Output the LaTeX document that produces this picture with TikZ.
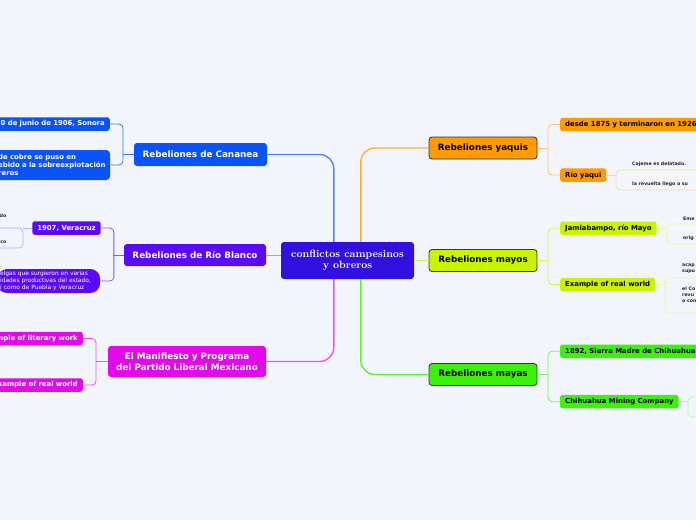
\documentclass[tikz,border=0pt]{standalone}
\usepackage{fontspec}
\newfontfamily\sansf{DejaVu Sans}
\definecolor{bg}{HTML}{F3F5FD}
\definecolor{cmain}{HTML}{3210DE}
\definecolor{cblue}{HTML}{0B52F7}
\definecolor{cviolet}{HTML}{5A0AF5}
\definecolor{cmag}{HTML}{E20AEA}
\definecolor{corange}{HTML}{FF9A00}
\definecolor{cyellow}{HTML}{CCF200}
\definecolor{cgreen}{HTML}{3CF20A}
\begin{document}
\begin{tikzpicture}[x=1pt,y=-1pt,
  mainnode/.style={rounded corners=3pt, inner sep=0pt, align=center, font=\sansf\fontsize{8.8}{11}\selectfont\bfseries},
  leafnode/.style={rounded corners=2.5pt, inner ysep=0pt, inner xsep=5pt, minimum height=13.5pt, font=\sansf\fontsize{6.9}{8.3}\selectfont\bfseries},
  tinytext/.style={inner sep=0pt, align=left, font=\sansf\fontsize{4.7}{6}\selectfont\bfseries, text=black!85},
  grp/.style={rounded corners=4pt, line width=0.7pt, inner sep=0pt},
  conn/.style={line width=1.4pt, rounded corners=14pt},
  br/.style={line width=0.8pt, rounded corners=4pt}]
\useasboundingbox (0,0) rectangle (696,520);
\clip (0,0) rectangle (696,520);
\fill[bg] (0,0) rectangle (696,520);

% main nodes
\node[mainnode, fill=cmain, text=white, minimum width=133pt, minimum height=37pt,
  font=\rmfamily\fontsize{10.5}{11.5}\selectfont\bfseries] (center) at (347.5,260.5) {conflictos campesinos\\y obreros};
\node[mainnode, fill=cblue, text=white, minimum width=133pt, minimum height=23pt] (cananea) at (200.5,154.5) {Rebeliones de Cananea};
\node[mainnode, fill=cviolet, text=white, minimum width=142pt, minimum height=22pt] (rioblanco) at (195,255) {Rebeliones de Río Blanco};
\node[mainnode, fill=cmag, text=white, minimum width=158pt, minimum height=31pt] (manif) at (187,361.5) {El Manifiesto y Programa\\del Partido Liberal Mexicano};
\node[mainnode, fill=corange, draw=black!80, line width=0.8pt, minimum width=108pt, minimum height=22pt] (yaquis) at (483,148) {Rebeliones yaquis};
\node[mainnode, fill=cyellow, draw=black!80, line width=0.8pt, minimum width=108pt, minimum height=22pt] (mayos) at (483,260.5) {Rebeliones mayos};
\node[mainnode, fill=cgreen, draw=black!80, line width=0.8pt, minimum width=108pt, minimum height=22pt] (mayas) at (483,374.5) {Rebeliones mayas};

% left leaves
\node[leafnode, fill=cblue, text=white, anchor=east, text width=125pt, align=right] (c1) at (110,124) {0 de junio de 1906, Sonora};
\node[leafnode, fill=cblue, text=white, anchor=west, inner xsep=2pt, text width=110pt, align=left, minimum height=30pt, rounded corners=4pt] (c2) at (-4,165) {de cobre se puso en\\ebido a la sobreexplotación\\reros};
\node[leafnode, fill=cviolet, text=white, minimum width=67pt] (v1) at (66.5,228) {1907, Veracruz};
\node[fill=cviolet, text=white, anchor=west, inner xsep=3pt, inner ysep=0pt, text width=97pt, align=left, minimum height=24pt, rounded corners=10pt,
  font=\sansf\fontsize{5.9}{6.8}\selectfont] (v2) at (-3,281) {elgas que surgieron en varias\\idades productivas del estado,\\í como de Puebla y Veracruz};
\node[grp, draw=cviolet!35, minimum width=40pt, minimum height=20pt] (v3) at (3,238) {};
\node[tinytext, anchor=east] (v3a) at (6.5,216) {do};
\node[tinytext, anchor=east] (v3b) at (6.5,242) {co};
\node[leafnode, fill=cmag, text=white, anchor=east, text width=100pt, align=right] (m1) at (83,338.5) {mple of literary work};
\node[leafnode, fill=cmag, text=white, anchor=east, text width=100pt, align=right] (m2) at (83,385) {xample of real world};

% right leaves
\node[leafnode, fill=corange, anchor=west] (y1) at (560,124.5) {desde 1875 y terminaron en 1926};
\node[leafnode, fill=corange, anchor=west] (y2) at (560,175) {Río yaqui};
\node[grp, draw=corange!40, minimum width=100pt, minimum height=20pt] (y3) at (666,180) {};
\node[tinytext, anchor=west] (y3a) at (632,164) {Cajeme es delatado.};
\node[tinytext, anchor=west] (y3b) at (632,184.5) {la revuelta llego a su};

\node[leafnode, fill=cyellow, anchor=west] (jam) at (560,228.3) {Jamiabampo, río Mayo};
\node[leafnode, fill=cyellow, anchor=west] (ex) at (560,284.5) {Example of real world};
\node[grp, draw=cyellow!45, minimum width=50pt, minimum height=20pt] (jamg) at (692,234) {};
\node[tinytext, anchor=west] (jama) at (683,218.5) {Eme};
\node[tinytext, anchor=west] (jamb) at (683,238.5) {orig};
\node[grp, draw=cyellow!45, minimum width=50pt, minimum height=35pt] (exg) at (690,295.5) {};
\node[tinytext, anchor=west] (exa) at (682,268.5) {acap\\supu};
\node[tinytext, anchor=west] (exb) at (682,295) {el Co\\revu\\o con};

\node[leafnode, fill=cgreen, anchor=west] (g1) at (560,351.3) {1892, Sierra Madre de Chihuahua};
\node[leafnode, fill=cgreen, anchor=west] (g2) at (560,401.7) {Chihuahua Mining Company};
\node[grp, draw=cgreen!40, minimum width=40pt, minimum height=20pt] (g3) at (708,407) {};

% center connectors
\draw[conn, draw=cblue!70] (cananea.east) -| ([xshift=53pt]center.north west);
\draw[conn, draw=cmag!70] (manif.east) -| ([xshift=53pt]center.south west);
\draw[conn, draw=corange!80] (yaquis.west) -| ([xshift=80pt]center.north west);
\draw[conn, draw=cgreen!85] (mayas.west) -| ([xshift=80pt]center.south west);
\draw[line width=1pt, draw=cviolet!45] (rioblanco.east) -- (rioblanco.east -| center.west);
\draw[line width=1pt, draw=cyellow!70] (center.east) -- (mayos.west);

% brackets left
\draw[br, draw=cblue!80] (cananea.west) -- ++(-11,0);
\draw[br, draw=cblue!80] (c1.east) -- ++(13,0) |- (c2.east);
\draw[br, draw=cviolet!70] (rioblanco.west) -- ++(-11,0);
\draw[br, draw=cviolet!70] (v1.east) -- ++(13,0) |- (v2.east);
\draw[br, draw=cviolet!35] (v1.west) -- (v3.east |- v1.west);
\draw[br, draw=cmag!70] (manif.west) -- ++(-12,0);
\draw[br, draw=cmag!70] (m1.east) -- ++(13,0) |- (m2.east);

% brackets right
\draw[br, draw=corange!60] (yaquis.east) -- ++(11,0);
\draw[br, draw=corange!60] (y1.west) -- ++(-12,0) |- (y2.west);
\draw[br, draw=corange!40] (y2.east) -- (y3.west |- y2.east);
\draw[br, draw=cyellow!70] (mayos.east) -- ++(11,0);
\draw[br, draw=cyellow!70] (jam.west) -- ++(-12,0) |- (ex.west);
\draw[br, draw=cyellow!45] (jam.east) -- (jamg.west |- jam.east);
\draw[br, draw=cyellow!45] (ex.east) -- (exg.west |- ex.east);
\draw[br, draw=cgreen!70] (mayas.east) -- ++(11,0);
\draw[br, draw=cgreen!70] (g1.west) -- ++(-12,0) |- (g2.west);
\draw[br, draw=cgreen!40] (g2.east) -- (g3.west |- g2.east);
\end{tikzpicture}
\end{document}
